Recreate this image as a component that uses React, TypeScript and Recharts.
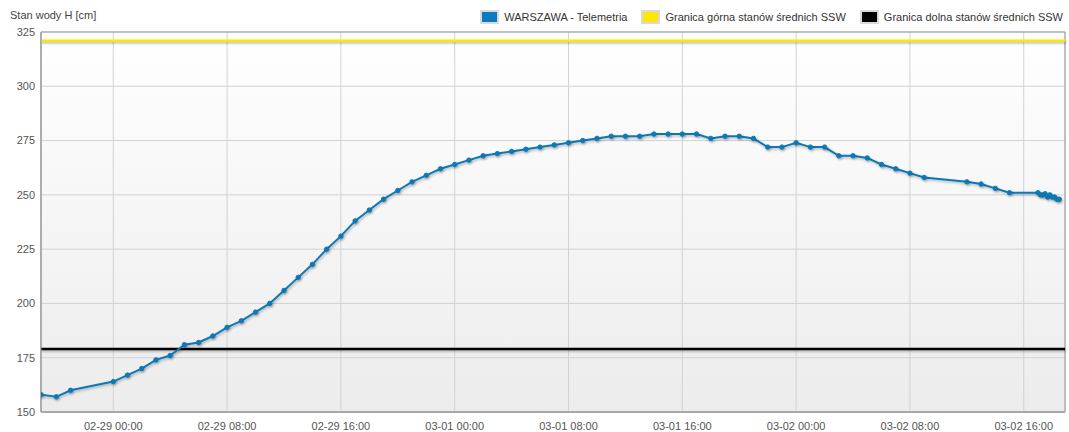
import React from 'react';
import { LineChart, Line, XAxis, YAxis, CartesianGrid, ReferenceLine, ReferenceArea } from 'recharts';

// hours relative to 02-29 00:00
const hours = [
  -5.08, -4, -3, 0, 1, 2, 3, 4, 5, 6, 7, 8, 9, 10, 11, 12, 13, 14, 15, 16, 17, 18, 19, 20,
  21, 22, 23, 24, 25, 26, 27, 28, 29, 30, 31, 32, 33, 34, 35, 36, 37, 38, 39, 40, 41, 42,
  43, 44, 45, 46, 47, 48, 49, 50, 51, 52, 53, 54, 55, 56, 57, 60, 61, 62, 63, 65,
  65.17, 65.33, 65.5, 65.67, 65.83, 66, 66.17, 66.33, 66.5,
];
const levels = [
  158, 157, 160, 164, 167, 170, 174, 176, 181, 182, 185, 189, 192, 196, 200, 206, 212, 218, 225, 231, 238, 243, 248, 252,
  256, 259, 262, 264, 266, 268, 269, 270, 271, 272, 273, 274, 275, 276, 277, 277, 277, 278, 278, 278, 278, 276,
  277, 277, 276, 272, 272, 274, 272, 272, 268, 268, 267, 264, 262, 260, 258, 256, 255, 253, 251, 251,
  250, 250, 250.5, 249, 250, 249, 249, 248, 248,
];

const xDomain = [-5.08, 66.9];
const xTicks = [0, 8, 16, 24, 32, 40, 48, 56, 64];
const xTickLabels = [
  '02-29 00:00', '02-29 08:00', '02-29 16:00',
  '03-01 00:00', '03-01 08:00', '03-01 16:00',
  '03-02 00:00', '03-02 08:00', '03-02 16:00',
];
const yTicks = [150, 175, 200, 225, 250, 275, 300, 325];

const upperSSW = 321;
const lowerSSW = 179;

const seriesNames = ['WARSZAWA - Telemetria', 'Granica górna stanów średnich SSW', 'Granica dolna stanów średnich SSW'];
const seriesColors = ['#0a7bbf', '#ffe800', '#000000'];
const yTitle = 'Stan wody H [cm]';

const data = hours.map((h, i) => ({ t: h, v: levels[i] }));

const FONT = '"Liberation Sans", Arial, sans-serif';

export default function App() {
  return (
    <div style={{ position: 'absolute', left: 0, top: 0, width: 1069, height: 432, fontFamily: FONT, background: '#fff' }}>
      <div style={{ position: 'absolute', left: 10, top: 8, fontSize: 11, lineHeight: '14px', color: '#444' }}>{yTitle}</div>
      <div
        style={{
          position: 'absolute',
          right: 6,
          top: 10,
          height: 14,
          display: 'flex',
          alignItems: 'center',
          fontSize: 11,
          color: '#333',
          whiteSpace: 'nowrap',
        }}
      >
        {seriesNames.map((n, i) => (
          <div key={n} style={{ display: 'flex', alignItems: 'center', marginLeft: i === 0 ? 0 : 14 }}>
            <span
              style={{
                display: 'inline-block',
                width: 19,
                height: 14,
                boxSizing: 'border-box',
                border: '2px solid #d9d9d9',
                background: seriesColors[i],
                marginRight: 5,
              }}
            />
            <span>{n}</span>
          </div>
        ))}
      </div>
      <LineChart
        width={1069}
        height={432}
        data={data}
        margin={{ top: 32, right: 4, bottom: 0, left: 0 }}
        style={{ position: 'absolute', left: 0, top: 0 }}
      >
        <defs>
          <linearGradient id="plotBg" x1="0" y1="0" x2="0" y2="1">
            <stop offset="0%" stopColor="#ffffff" />
            <stop offset="100%" stopColor="#ececec" />
          </linearGradient>
          <filter id="shadow" filterUnits="userSpaceOnUse" x="0" y="0" width="1069" height="432">
            <feDropShadow dx="1" dy="1.5" stdDeviation="1" floodColor="#000" floodOpacity="0.28" />
          </filter>
        </defs>
        <CartesianGrid stroke="#d2d2d2" fill="url(#plotBg)" fillOpacity={1} />
        <XAxis
          dataKey="t"
          type="number"
          domain={xDomain}
          ticks={xTicks}
          allowDataOverflow
          tickFormatter={(v: number) => xTickLabels[xTicks.indexOf(v)] ?? ''}
          tickSize={0}
          tickMargin={10}
          height={20}
          interval={0}
          axisLine={{ stroke: '#a8a8a8', strokeWidth: 2 }}
          tick={{ fill: '#555', fontSize: 11, fontFamily: FONT }}
        />
        <YAxis
          type="number"
          domain={[150, 325]}
          ticks={yTicks}
          allowDataOverflow
          width={41}
          tickSize={0}
          tickMargin={6}
          interval={0}
          axisLine={{ stroke: '#999', strokeWidth: 1 }}
          tick={{ fill: '#555', fontSize: 11, fontFamily: FONT }}
        />
        <ReferenceArea x1={xDomain[0]} x2={xDomain[1]} y1={150} y2={325} fill="none" stroke="#999" strokeWidth={1} />
        <ReferenceLine y={upperSSW} stroke={seriesColors[1]} strokeWidth={2.5} filter="url(#shadow)" />
        <ReferenceLine y={lowerSSW} stroke={seriesColors[2]} strokeWidth={2.5} filter="url(#shadow)" />
        <Line
          type="linear"
          dataKey="v"
          stroke="#0b78b5"
          strokeWidth={2}
          dot={{ r: 2.2, fill: '#0b78b5', stroke: '#0b78b5', strokeWidth: 1 }}
          activeDot={false}
          isAnimationActive={false}
          filter="url(#shadow)"
        />
      </LineChart>
    </div>
  );
}
